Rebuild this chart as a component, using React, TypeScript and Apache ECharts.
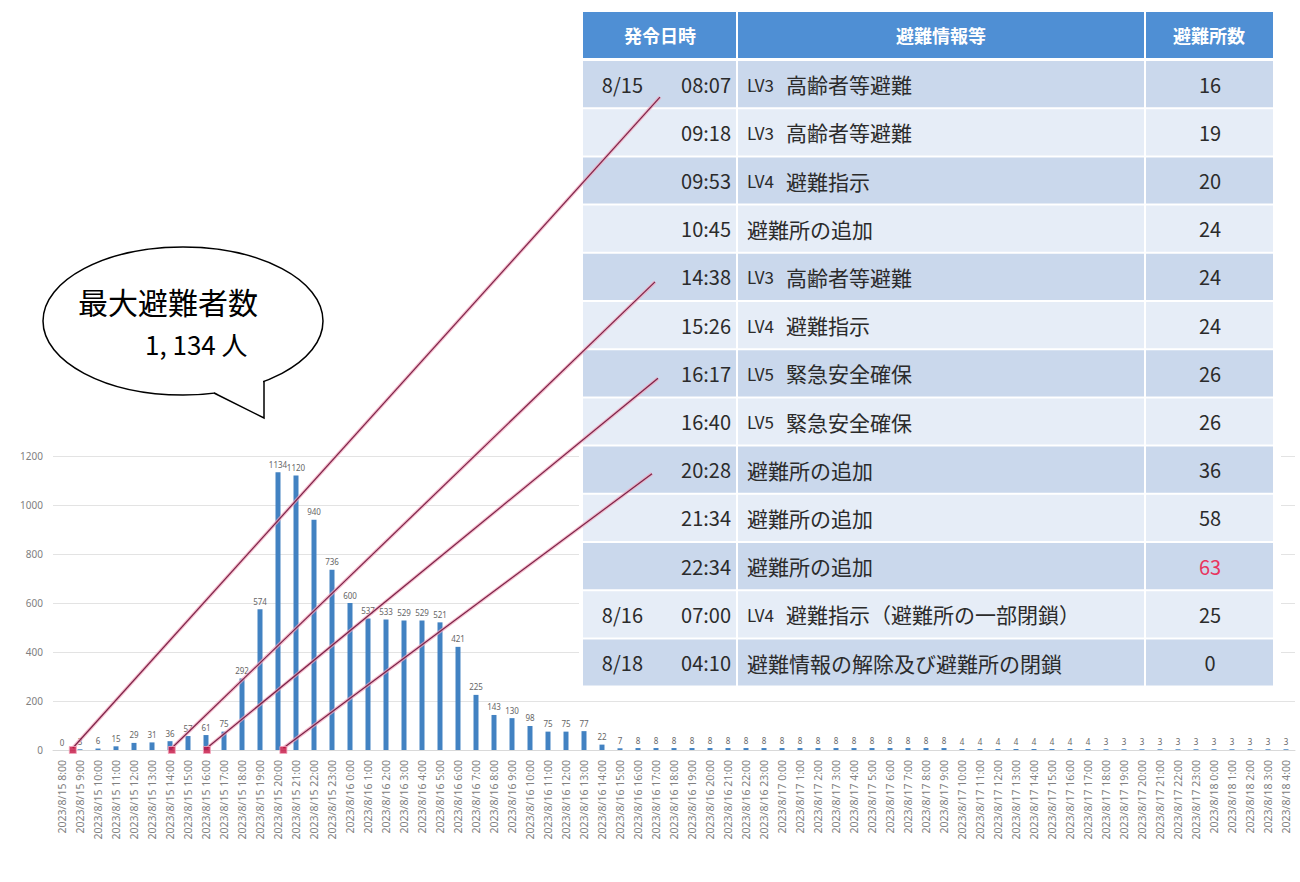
import React, { useEffect, useRef } from "react";
import * as echarts from "echarts";

const categories = [
  "2023/8/15 8:00", "2023/8/15 9:00", "2023/8/15 10:00", "2023/8/15 11:00", "2023/8/15 12:00",
  "2023/8/15 13:00", "2023/8/15 14:00", "2023/8/15 15:00", "2023/8/15 16:00", "2023/8/15 17:00",
  "2023/8/15 18:00", "2023/8/15 19:00", "2023/8/15 20:00", "2023/8/15 21:00", "2023/8/15 22:00",
  "2023/8/15 23:00",
  "2023/8/16 0:00", "2023/8/16 1:00", "2023/8/16 2:00", "2023/8/16 3:00", "2023/8/16 4:00",
  "2023/8/16 5:00", "2023/8/16 6:00", "2023/8/16 7:00", "2023/8/16 8:00", "2023/8/16 9:00",
  "2023/8/16 10:00", "2023/8/16 11:00", "2023/8/16 12:00", "2023/8/16 13:00", "2023/8/16 14:00",
  "2023/8/16 15:00", "2023/8/16 16:00", "2023/8/16 17:00", "2023/8/16 18:00", "2023/8/16 19:00",
  "2023/8/16 20:00", "2023/8/16 21:00", "2023/8/16 22:00", "2023/8/16 23:00",
  "2023/8/17 0:00", "2023/8/17 1:00", "2023/8/17 2:00", "2023/8/17 3:00", "2023/8/17 4:00",
  "2023/8/17 5:00", "2023/8/17 6:00", "2023/8/17 7:00", "2023/8/17 8:00", "2023/8/17 9:00",
  "2023/8/17 10:00", "2023/8/17 11:00", "2023/8/17 12:00", "2023/8/17 13:00", "2023/8/17 14:00",
  "2023/8/17 15:00", "2023/8/17 16:00", "2023/8/17 17:00", "2023/8/17 18:00", "2023/8/17 19:00",
  "2023/8/17 20:00", "2023/8/17 21:00", "2023/8/17 22:00", "2023/8/17 23:00",
  "2023/8/18 0:00", "2023/8/18 1:00", "2023/8/18 2:00", "2023/8/18 3:00", "2023/8/18 4:00",
];

const evacuees = [
  0, 3, 6, 15, 29, 31, 36, 57, 61, 75, 292, 574, 1134, 1120, 940, 736,
  600, 537, 533, 529, 529, 521, 421, 225, 143, 130, 98, 75, 75, 77, 22, 7,
  8, 8, 8, 8, 8, 8, 8, 8,
  8, 8, 8, 8, 8, 8, 8, 8, 8, 8,
  4, 4, 4, 4, 4, 4, 4, 4,
  3, 3, 3, 3, 3,
  3, 3, 3, 3, 3, 3,
];

const yMax = 1200;
const yInterval = 200;

const tableHeaders = ["発令日時", "避難情報等", "避難所数"];
const issueDates = ["8/15", "", "", "", "", "", "", "", "", "", "", "8/16", "8/18"];
const issueTimes = ["08:07", "09:18", "09:53", "10:45", "14:38", "15:26", "16:17", "16:40", "20:28", "21:34", "22:34", "07:00", "04:10"];
const alertLevels = ["LV3", "LV3", "LV4", "", "LV3", "LV4", "LV5", "LV5", "", "", "", "LV4", ""];
const descriptions = [
  "高齢者等避難", "高齢者等避難", "避難指示", "避難所の追加", "高齢者等避難", "避難指示",
  "緊急安全確保", "緊急安全確保", "避難所の追加", "避難所の追加", "避難所の追加",
  "避難指示（避難所の一部閉鎖）", "避難情報の解除及び避難所の閉鎖",
];
const shelterCounts = [16, 19, 20, 24, 24, 24, 26, 26, 36, 58, 63, 25, 0];
const highlightedRow = 10;

// markers on the time axis (category-index units) and the table rows they point to
const markerPositions = [0.6, 6.1, 8.05, 12.3];
const linkedRows = [0, 4, 6, 8];

const bubbleTitle = "最大避難者数";
const bubbleValue = "1, 134 人";

const JP = "'Noto Sans CJK JP', 'Noto Sans', sans-serif";

export default function App() {
  const ref = useRef<HTMLDivElement>(null);

  useEffect(() => {
    document.body.style.margin = "0";
    const chart = echarts.init(ref.current!, undefined, { renderer: "svg" });

    const gridLeft = 53;
    const gridRight = 5;
    const gridTop = 456;
    const gridBottom = 132;

    chart.setOption({
      animation: false,
      backgroundColor: "#ffffff",
      grid: { left: gridLeft, right: gridRight, top: gridTop, bottom: gridBottom, containLabel: false },
      xAxis: [
        {
          type: "category",
          data: categories,
          boundaryGap: true,
          axisLine: { show: true, lineStyle: { color: "#d9d9d9" } },
          axisTick: { show: false },
          axisLabel: {
            interval: 0,
            rotate: 90,
            fontSize: 10.5,
            color: "#808080",
            margin: 10,
            fontFamily: "'Noto Sans', sans-serif",
          },
        },
        {
          type: "value",
          min: -0.5,
          max: categories.length - 0.5,
          show: false,
        },
      ],
      yAxis: {
        type: "value",
        min: 0,
        max: yMax,
        interval: yInterval,
        axisLine: { show: false },
        axisTick: { show: false },
        axisLabel: {
          color: "#808080",
          fontSize: 10,
          margin: 10,
          fontFamily: "'Noto Sans', sans-serif",
          formatter: (v: number) => String(v),
        },
        splitLine: { lineStyle: { color: "#e3e3e3" } },
      },
      series: [
        {
          type: "bar",
          data: evacuees,
          barWidth: 5,
          itemStyle: { color: "#4282c2" },
          label: {
            show: true,
            position: "top",
            fontSize: 8,
            color: "#666666",
            distance: 4,
            fontFamily: "'Noto Sans', sans-serif",
          },
          z: 2,
        },
        {
          type: "scatter",
          xAxisIndex: 1,
          data: markerPositions.map((p) => [p, 0]),
          symbol: "rect",
          symbolSize: 7,
          itemStyle: { color: "#c41040", borderColor: "#f3a6bd", borderWidth: 1 },
          z: 70,
        },
      ],
    });

    // table layout
    const tLeft = 583;
    const tRight = 1273;
    const colX = [583, 737, 1145, 1273];
    const headTop = 12;
    const headH = 46;
    const rowTop = 60;
    const rowH = 48.2;

    const elements: any[] = [];
    elements.push({
      type: "rect",
      z: 50,
      shape: { x: tLeft - 4, y: headTop - 4, width: tRight - tLeft + 12, height: rowTop + rowH * issueTimes.length - headTop + 8 },
      style: { fill: "#ffffff" },
    });
    elements.push({
      type: "rect",
      z: 51,
      shape: { x: tLeft, y: headTop, width: tRight - tLeft, height: headH },
      style: { fill: "#4f8fd4" },
    });
    tableHeaders.forEach((h, i) => {
      elements.push({
        type: "text",
        z: 53,
        x: (colX[i] + colX[i + 1]) / 2,
        y: headTop + headH / 2,
        style: {
          text: h,
          fill: "#ffffff",
          fontSize: 18,
          fontWeight: "bold",
          fontFamily: JP,
          align: "center",
          verticalAlign: "middle",
          textAlign: "center",
          textVerticalAlign: "middle",
        },
      });
    });
    issueTimes.forEach((t, i) => {
      const y0 = rowTop + i * rowH;
      const cy = y0 + rowH / 2;
      elements.push({
        type: "rect",
        z: 51,
        shape: { x: tLeft, y: y0 + 1, width: tRight - tLeft, height: rowH - 2 },
        style: { fill: i % 2 === 0 ? "#cad8ec" : "#e6edf7" },
      });
      const txt = (text: string, x: number, align: string, fill = "#2b2b2b", size = 20) => ({
        type: "text",
        z: 53,
        x,
        y: cy,
        style: {
          text,
          fill,
          fontSize: size,
          fontFamily: JP,
          align,
          verticalAlign: "middle",
          textAlign: align,
          textVerticalAlign: "middle",
        },
      });
      if (issueDates[i]) elements.push(txt(issueDates[i], 643, "right"));
      elements.push(txt(t, 731, "right"));
      if (alertLevels[i]) {
        elements.push(txt(alertLevels[i], 747, "left", "#2b2b2b", 17));
        elements.push(txt(descriptions[i], 786, "left", "#2b2b2b", 21));
      } else {
        elements.push(txt(descriptions[i], 747, "left", "#2b2b2b", 21));
      }
      elements.push(
        txt(String(shelterCounts[i]), 1210, "center", i === highlightedRow ? "#e8355e" : "#2b2b2b", 20)
      );
    });
    // column separators
    [colX[1], colX[2]].forEach((x) => {
      elements.push({
        type: "line",
        z: 52,
        shape: { x1: x, y1: headTop, x2: x, y2: rowTop + rowH * issueTimes.length },
        style: { stroke: "#ffffff", lineWidth: 2 },
      });
    });

    // connector lines from markers to table rows
    const lineEnds = [
      { x: 660, dy: 13 },
      { x: 655, dy: 5 },
      { x: 658, dy: 5 },
      { x: 652, dy: 4 },
    ];
    markerPositions.forEach((p, k) => {
      const px = chart.convertToPixel({ xAxisIndex: 1, yAxisIndex: 0 } as any, [p, 0]) as number[];
      const row = linkedRows[k];
      const ex = lineEnds[k].x;
      const ey = rowTop + row * rowH + rowH / 2 + lineEnds[k].dy;
      elements.push({
        type: "line",
        z: 60,
        shape: { x1: px[0], y1: px[1] - 2, x2: ex, y2: ey },
        style: { stroke: "#f2a2ba", lineWidth: 3.5, opacity: 0.7 },
      });
      elements.push({
        type: "line",
        z: 61,
        shape: { x1: px[0], y1: px[1] - 2, x2: ex, y2: ey },
        style: { stroke: "#7b2347", lineWidth: 1.2 },
      });
    });

    // speech bubble
    const bcx = 183, bcy = 321, brx = 140, bry = 74;
    elements.push({
      type: "ellipse",
      z: 80,
      shape: { cx: bcx, cy: bcy, rx: brx, ry: bry },
      style: { fill: "#ffffff", stroke: "#000000", lineWidth: 1.5 },
    });
    elements.push({
      type: "polygon",
      z: 81,
      shape: { points: [[214, 392], [263, 417], [263, 380], [240, 384]] },
      style: { fill: "#ffffff" },
    });
    elements.push({
      type: "polyline",
      z: 82,
      shape: { points: [[214, 393], [264, 418], [264, 381]] },
      style: { stroke: "#000000", lineWidth: 1.5, fill: null },
    });
    elements.push({
      type: "text",
      z: 83,
      x: 78,
      y: 301,
      style: {
        text: bubbleTitle,
        fill: "#000000",
        fontSize: 30,
        fontFamily: JP,
        align: "left",
        verticalAlign: "middle",
        textAlign: "left",
        textVerticalAlign: "middle",
      },
    });
    elements.push({
      type: "text",
      z: 83,
      x: 145,
      y: 343,
      style: {
        text: bubbleValue,
        fill: "#000000",
        fontSize: 26,
        fontFamily: JP,
        align: "left",
        verticalAlign: "middle",
        textAlign: "left",
        textVerticalAlign: "middle",
      },
    });

    chart.setOption({ graphic: { elements } });

    return () => chart.dispose();
  }, []);

  return <div ref={ref} style={{ width: 1300, height: 882 }} />;
}
